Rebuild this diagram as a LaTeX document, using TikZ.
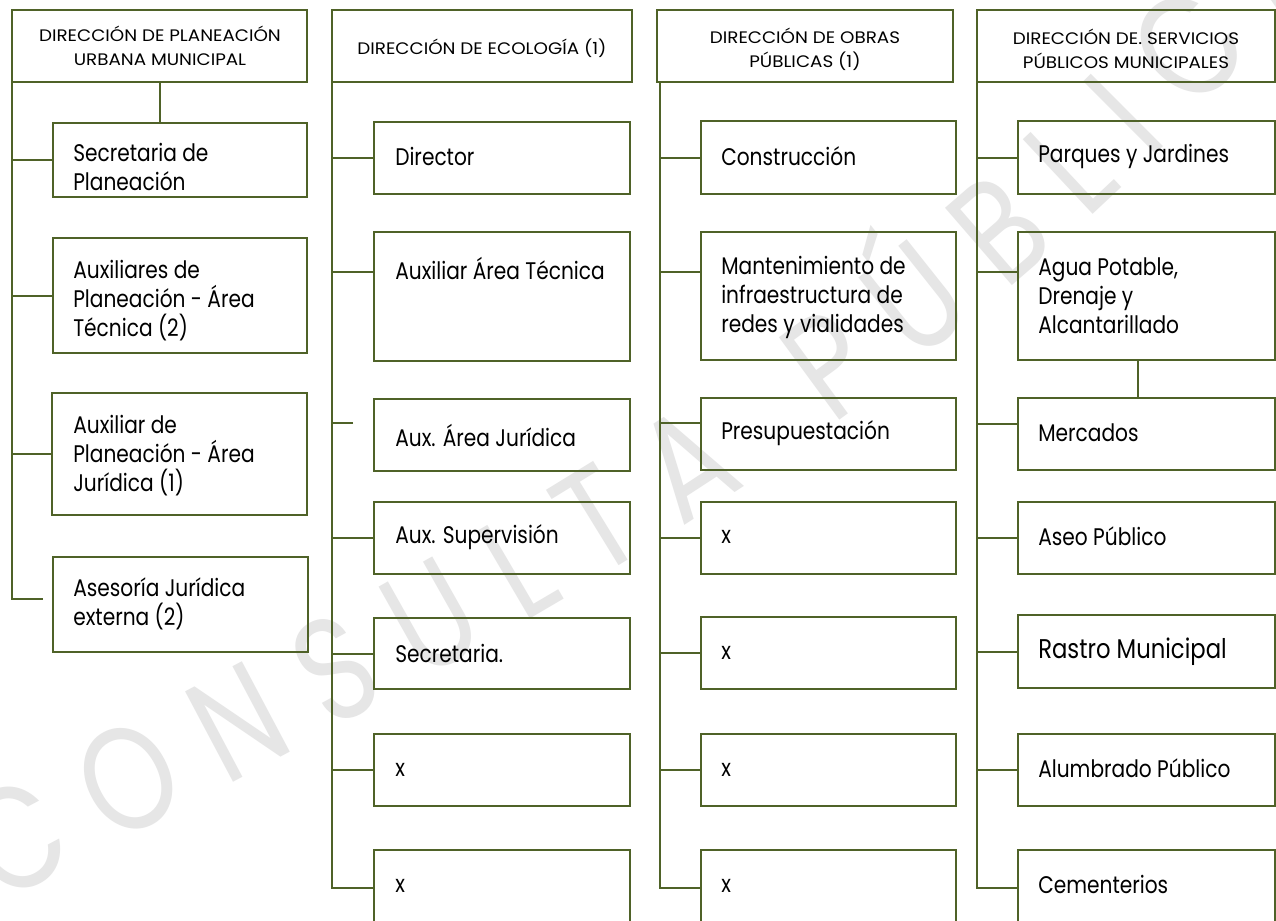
\documentclass[tikz,border=0pt]{standalone}
\usepackage{fontspec}
\setmainfont{Poppins}
\newfontfamily\bodyf[FakeStretch=0.84]{Poppins}
\newfontfamily\headf[FakeStretch=1.1]{Poppins}
\newfontfamily\wmf[FakeStretch=0.8]{Poppins}
\usetikzlibrary{calc,decorations.text}
\definecolor{olive}{RGB}{79,98,40}
\definecolor{wmgray}{RGB}{230,230,230}
\newcommand\bx[5]{\node[box,minimum width={(#4-#2)*0.75pt},minimum height={(#5-#3)*0.75pt}] (#1) at (#2,#3) {};}
\begin{document}
\begin{tikzpicture}[x=0.75pt,y=-0.75pt,
  box/.style={draw=olive,line width=1.5pt,rectangle,anchor=north west,inner sep=0pt,outer sep=0pt},
  ln/.style={draw=olive,line width=1.5pt},
  txt/.style={font=\bodyf\fontsize{18}{21.75}\selectfont,align=left,inner sep=0pt,anchor=west,text=black},
  big/.style={font=\bodyf\fontsize{20.3}{22}\selectfont,align=left,inner sep=0pt,anchor=west,text=black},
  hd/.style={font=\headf\fontsize{12.5}{18}\selectfont,align=center,inner sep=0pt,text=black}]
\fill[white] (0,0) rectangle (1276,920);
\useasboundingbox (0,0) rectangle (1276,920);
% watermark
\path[decorate,decoration={text along path,text align={fit to path},
  text={|\wmf\fontsize{110}{110}\selectfont\color{wmgray}|CONSULTA PÚBLICA}}]
  (0,905) .. controls (450,665) and (950,435) .. (1330,-40);
% headers
\bx{h1}{12}{10}{307}{82}
\bx{h2}{332}{10}{632}{82}
\bx{h3}{657}{10}{953}{82}
\bx{h4}{977}{10}{1275}{82}
\node[hd] (th1) at (160,46) {DIRECCIÓN DE PLANEACIÓN\\URBANA MUNICIPAL};
\node[hd] (th2) at (482,48) {DIRECCIÓN DE ECOLOGÍA (1)};
\node[hd] (th3) at (805,49) {DIRECCIÓN DE OBRAS\\PÚBLICAS (1)};
\node[hd] (th4) at (1126,49) {DIRECCIÓN DE. SERVICIOS\\PÚBLICOS MUNICIPALES};
% column 1
\bx{sec}{53}{123}{307}{197}
\bx{aux1}{53}{238}{307}{353}
\bx{aux2}{52}{393}{307}{515}
\bx{ase}{53}{557}{308}{652}
\node[txt] (tsec) at (73,167) {Secretaria de\\Planeación};
\node[txt] (taux1) at (73,301) {Auxiliares de\\Planeación - Área\\Técnica (2)};
\node[txt] (taux2) at (73,456) {Auxiliar de\\Planeación - Área\\Jurídica (1)};
\node[txt] (tase) at (73,604) {Asesoría Jurídica\\externa (2)};
\coordinate (c1tip) at (43,599);
\draw[ln] (h1.south west) |- (c1tip);
\draw[ln] (h1.south) -- (h1.south |- sec.north);
\foreach \b in {sec,aux1,aux2} \draw[ln] (\b.west) -- (\b.west -| h1.south west);
% column 2
\bx{dir}{374}{122}{630}{194}
\bx{aat}{374}{232}{630}{361}
\bx{aaj}{374}{399}{630}{471}
\bx{asu}{374}{502}{630}{574}
\bx{secr}{374}{618}{630}{689}
\bx{xa}{374}{734}{630}{806}
\bx{xb}{374}{850}{630}{925}
\node[txt] (tdir) at (395,156) {Director};
\node[txt] (taat) at (395,268) {Auxiliar Área Técnica};
\node[txt] (taaj) at (395,435) {Aux. Área Jurídica};
\node[txt] (tasu) at (395,537) {Aux. Supervisión};
\node[txt] (tsecr) at (395,653) {Secretaria.};
\node[txt] (txa) at (395,770) {x};
\node[txt] (txb) at (395,886) {x};
\draw[ln] (h2.south west) |- (xb.west);
\draw[ln] (h2.south west) -- ++(20,0);
\coordinate (aajt) at ($(aaj.north west)+(-21,24)$);
\draw[ln] (aajt) -- (aajt -| h2.south west);
\draw[ln] ($(aat.north west)+(0,40)$) -- ($(aat.north west)+(-41,40)$);
\foreach \b in {dir,asu,secr,xa} \draw[ln] (\b.west) -- (\b.west -| h2.south west);
% column 3
\bx{con}{701}{121}{956}{194}
\bx{man}{701}{232}{956}{360}
\bx{pre}{701}{398}{956}{470}
\bx{xc}{701}{502}{956}{574}
\bx{xd}{701}{617}{956}{689}
\bx{xe}{701}{734}{956}{806}
\bx{xf}{701}{850}{956}{925}
\node[txt] (tcon) at (721,156) {Construcción};
\node[txt] (tman) at (721,297) {Mantenimiento de\\infraestructura de\\redes y vialidades};
\node[txt] (tpre) at (721,433) {Presupuestación};
\node[txt] (txc) at (721,537) {x};
\node[txt] (txd) at (721,653) {x};
\node[txt] (txe) at (721,770) {x};
\node[txt] (txf) at (721,886) {x};
\coordinate (c3top) at (660,82);
\draw[ln] (c3top) |- (xf.west);
\draw[ln] (c3top) -- ++(20,0);
\draw[ln] ($(man.north west)+(0,40)$) -- ($(man.north west)+(-41,40)$);
\draw[ln] ($(pre.north west)+(0,25)$) -- ($(pre.north west)+(-41,25)$);
\foreach \b in {con,xc,xd,xe} \draw[ln] (\b.west) -- (\b.west -| c3top);
% column 4
\bx{par}{1018}{121}{1275}{194}
\bx{agua}{1018}{232}{1275}{360}
\bx{mer}{1018}{398}{1275}{470}
\bx{aseo}{1018}{502}{1275}{574}
\bx{ras}{1018}{615}{1275}{688}
\bx{alu}{1018}{734}{1275}{806}
\bx{cem}{1018}{850}{1275}{925}
\node[txt] (tpar) at (1038,156) {Parques y Jardines};
\node[txt] (tagua) at (1038,296) {Agua Potable,\\Drenaje y\\Alcantarillado};
\node[txt] (tmer) at (1038,433) {Mercados};
\node[txt] (taseo) at (1038,536) {Aseo Público};
\node[big] (tras) at (1038,652) {Rastro Municipal};
\node[txt] (talu) at (1038,768) {Alumbrado Público};
\node[txt] (tcem) at (1038,884) {Cementerios};
\draw[ln] (h4.south west) |- (cem.west);
\draw[ln] (h4.south west) -- ++(20,0);
\draw[ln] ($(agua.north west)+(0,40)$) -- ($(agua.north west)+(-41,40)$);
\draw[ln] ($(mer.north west)+(0,26)$) -- ($(mer.north west)+(-41,26)$);
\foreach \b in {par,aseo,ras,alu} \draw[ln] (\b.west) -- (\b.west -| h4.south west);
\draw[ln] ($(agua.south)+(-9,0)$) -- ($(mer.north)+(-9,0)$);
\end{tikzpicture}
\end{document}
